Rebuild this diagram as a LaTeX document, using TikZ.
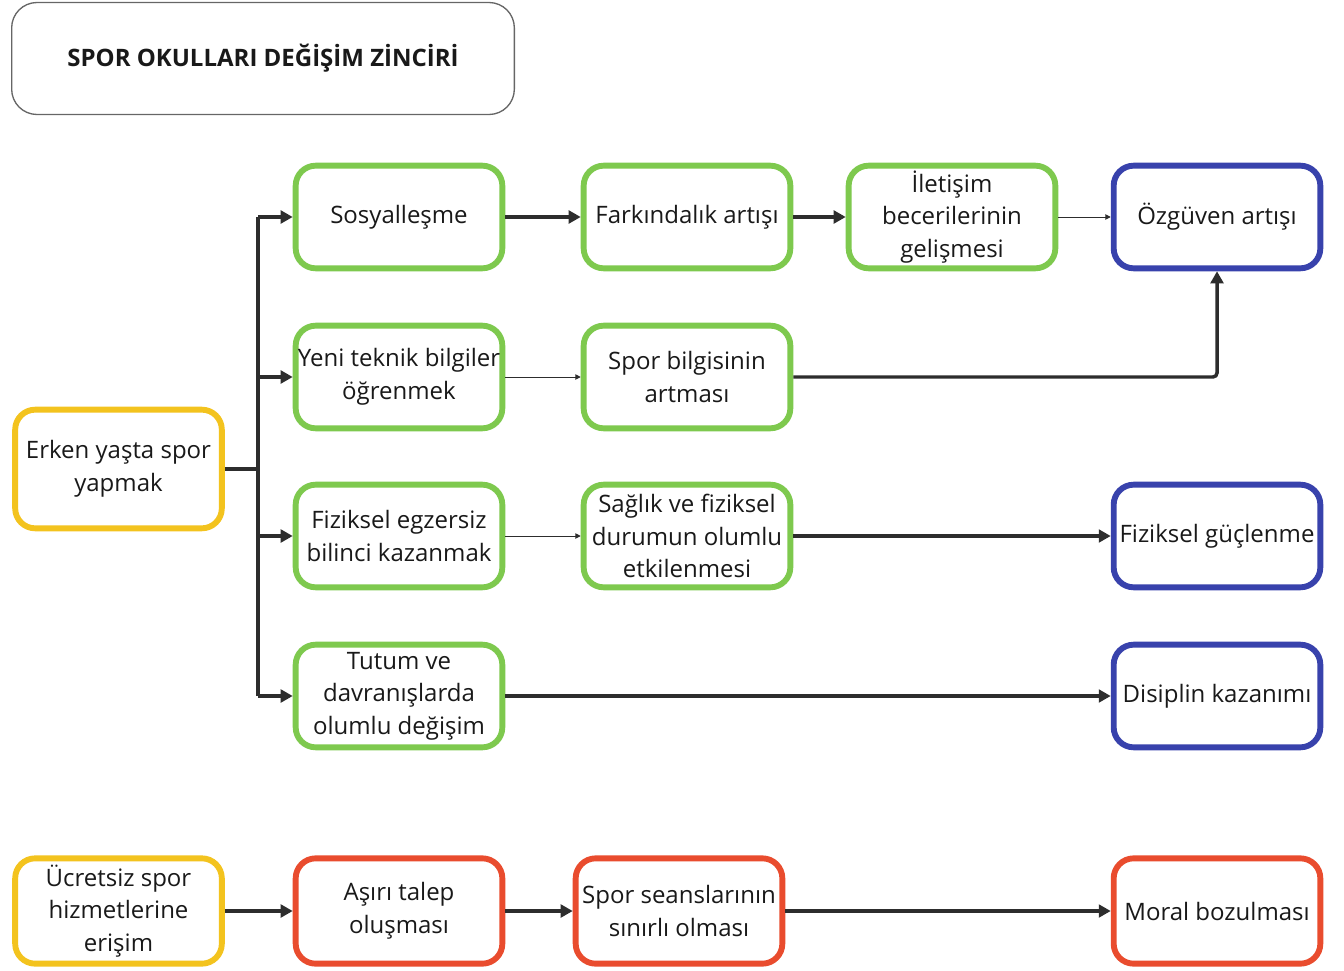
\documentclass[tikz,border=0pt]{standalone}
\usepackage{fontspec}
\setmainfont{Open Sans}
\usetikzlibrary{arrows.meta}
\definecolor{cgreen}{RGB}{126,201,78}
\definecolor{cblue}{RGB}{56,66,172}
\definecolor{cyellow}{RGB}{243,195,30}
\definecolor{cred}{RGB}{233,76,46}
\definecolor{cline}{RGB}{45,45,45}
\tikzset{
  box/.style={draw, line width=4.4pt, rounded corners=15pt, fill=white, align=center,
    minimum width=155pt, minimum height=77pt, inner sep=0pt, font=\fontsize{18}{24.5}\selectfont, text=black!90},
  gbox/.style={box, draw=cgreen},
  bbox/.style={box, draw=cblue},
  ybox/.style={box, draw=cyellow},
  rbox/.style={box, draw=cred},
  thick arrow/.style={draw=cline, line width=2.6pt, -{Triangle[length=9pt,width=9.5pt]}},
  thin arrow/.style={draw=cline, line width=0.7pt, -{Triangle[length=4pt,width=4pt]}},
  thick line/.style={draw=cline, line width=2.6pt},
}
\begin{document}
\begin{tikzpicture}[x=0.75pt,y=-0.75pt]
\useasboundingbox (0,0) rectangle (1344,970);
\node[draw=black!60, line width=1pt, rounded corners=19pt, minimum width=377pt, minimum height=84pt, inner sep=0pt,
  font=\bfseries\fontsize{18}{22}\selectfont, text=black!90] (title) at (263,58.5) {SPOR OKULLARI DEĞİŞİM ZİNCİRİ};

\node[ybox, minimum height=89pt] (erken) at (118.5,469) {Erken yaşta spor\\yapmak};

\node[gbox] (sos) at (399,217) {Sosyalleşme};
\node[gbox] (fark) at (687,217) {Farkındalık artışı};
\node[gbox] (ilet) at (952,217) {İletişim\\becerilerinin\\gelişmesi};
\node[bbox] (ozg) at (1217,217) {Özgüven artışı};

\node[gbox] (yeni) at (399,377) {Yeni teknik bilgiler\\öğrenmek};
\node[gbox] (sporb) at (687,377) {Spor bilgisinin\\artması};

\node[gbox] (fiz) at (399,536) {Fiziksel egzersiz\\bilinci kazanmak};
\node[gbox] (sag) at (687,536) {Sağlık ve fiziksel\\durumun olumlu\\etkilenmesi};
\node[bbox] (fizg) at (1217,536) {Fiziksel güçlenme};

\node[gbox] (tut) at (399,696) {Tutum ve\\davranışlarda\\olumlu değişim};
\node[bbox] (dis) at (1217,696) {Disiplin kazanımı};

\node[ybox, minimum height=79pt] (ucr) at (118.5,911) {Ücretsiz spor\\hizmetlerine\\erişim};
\node[rbox, minimum height=79pt] (asiri) at (399,911) {Aşırı talep\\oluşması};
\node[rbox, minimum height=79pt] (seans) at (679,911) {Spor seanslarının\\sınırlı olması};
\node[rbox, minimum height=79pt] (moral) at (1217,911) {Moral bozulması};

\coordinate (tr) at (258,469);
\coordinate (t1) at (258,217);
\coordinate (t4) at (258,696);
\coordinate (corner) at (1217,377);

\draw[thick line] (erken.east) -- (tr);
\draw[thick line] (t1) -- (t4);
\draw[thick arrow] (t1) -- (sos.west);
\draw[thick arrow] (258,377) -- (yeni.west);
\draw[thick arrow] (258,536) -- (fiz.west);
\draw[thick arrow] (t4) -- (tut.west);

\draw[thick arrow] (sos) -- (fark);
\draw[thick arrow] (fark) -- (ilet);
\draw[thin arrow] (ilet) -- (ozg);
\draw[thin arrow] (yeni) -- (sporb);
\draw[thick arrow, rounded corners=3pt] (sporb.east) -- (corner) -- (ozg.south);
\draw[thin arrow] (fiz) -- (sag);
\draw[thick arrow] (sag) -- (fizg);
\draw[thick arrow] (tut) -- (dis);

\draw[thick arrow] (ucr) -- (asiri);
\draw[thick arrow] (asiri) -- (seans);
\draw[thick arrow] (seans) -- (moral);
\end{tikzpicture}
\end{document}
